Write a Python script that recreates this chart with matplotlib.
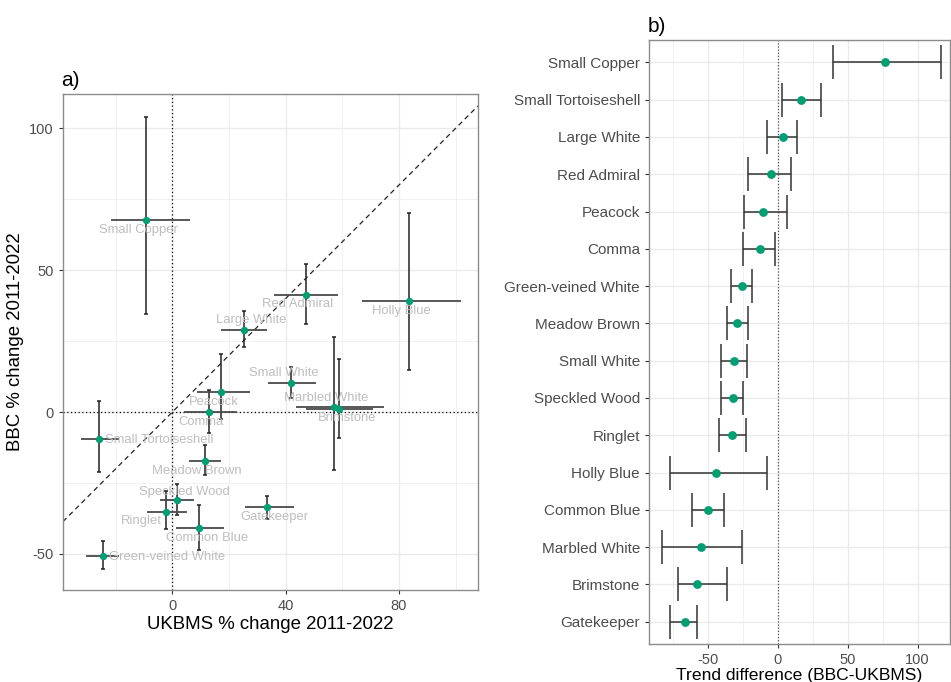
import numpy as np
import matplotlib
matplotlib.use("Agg")
import matplotlib.pyplot as plt
from matplotlib.ticker import MultipleLocator

plt.rcParams['font.family'] = ['Liberation Sans', 'DejaVu Sans']
plt.rcParams['axes.unicode_minus'] = False

# panel a: UKBMS vs BBC % change, with 95% intervals
species = ["Small Copper", "Red Admiral", "Holly Blue", "Large White", "Small White",
           "Peacock", "Comma", "Marbled White", "Brimstone", "Small Tortoiseshell",
           "Meadow Brown", "Speckled Wood", "Ringlet", "Common Blue", "Gatekeeper",
           "Green-veined White"]
ukbms = [-9.2, 47.1, 83.5, 25.3, 42.0, 17.2, 13.1, 57.2, 58.9, -25.9, 11.6, 1.5, -2.1, 9.4, 33.5, -24.6]
ukbms_lo = [-21.6, 35.9, 66.8, 17.1, 33.9, 8.6, 4.2, 43.5, 47.2, -32.2, 6.0, -4.4, -8.9, 1.4, 25.6, -30.4]
ukbms_hi = [6.2, 58.4, 101.8, 33.6, 50.7, 27.6, 22.8, 74.8, 70.9, -18.7, 17.3, 7.5, 5.3, 18.2, 43.1, -18.8]
bbc = [67.6, 41.4, 39.1, 29.1, 10.4, 6.9, 0.0, 1.8, 1.2, -9.6, -17.3, -31.1, -35.1, -40.7, -33.3, -50.6]
bbc_lo = [34.5, 31.2, 15.0, 22.8, 4.8, -2.6, -7.2, -20.4, -9.3, -21.2, -22.3, -36.4, -41.3, -48.6, -37.7, -55.2]
bbc_hi = [104.0, 52.1, 70.2, 35.7, 16.0, 20.3, 7.7, 26.5, 18.8, 4.0, -11.6, -25.5, -27.9, -32.6, -29.5, -45.5]
# where the repelled labels ended up
label_x = [-12.0, 44.2, 80.7, 28.0, 39.3, 14.5, 10.2, 54.4, 61.6, -4.7, 8.8, 4.2, -10.9, 12.1, 36.2, -1.9]
label_y = [64.3, 38.1, 35.7, 32.3, 13.6, 3.5, -3.4, 4.8, -2.2, -9.9, -20.7, -28.1, -38.4, -44.2, -36.9, -50.9]

# panel b: trend difference (BBC-UKBMS)
diff_species = ["Small Copper", "Small Tortoiseshell", "Large White", "Red Admiral", "Peacock",
                "Comma", "Green-veined White", "Meadow Brown", "Small White", "Speckled Wood",
                "Ringlet", "Holly Blue", "Common Blue", "Marbled White", "Brimstone", "Gatekeeper"]
diff = [76.9, 16.2, 3.8, -5.3, -10.5, -12.9, -26.0, -29.1, -31.3, -32.5, -33.0, -44.2, -50.1, -55.4, -57.8, -66.9]
diff_lo = [39.2, 2.9, -7.6, -21.3, -24.1, -25.1, -33.4, -36.3, -41.1, -40.6, -42.5, -77.1, -61.6, -83.1, -71.9, -77.1]
diff_hi = [117.0, 30.8, 13.6, 9.1, 6.2, -2.1, -18.4, -21.5, -22.0, -24.8, -22.9, -7.9, -38.7, -25.5, -36.3, -58.3]

green = '#009E73'
grid_col = '#EBEBEB'
tick_col = '#4D4D4D'

fig = plt.figure(figsize=(9.51, 6.82), dpi=100)
ax1 = fig.add_axes([0.0662, 0.1349, 0.4364, 0.7273])
ax2 = fig.add_axes([0.6824, 0.0557, 0.3166, 0.8856])


def style_axes(ax):
    ax.set_facecolor('white')
    ax.grid(which='major', color=grid_col, lw=1.0, zorder=0)
    ax.grid(which='minor', color=grid_col, lw=0.5, zorder=0)
    ax.set_axisbelow(True)
    for s in ax.spines.values():
        s.set_color('#8c8c8c')
        s.set_linewidth(1.0)
    ax.tick_params(which='major', colors='#333333', labelcolor=tick_col, labelsize=10.5,
                   length=3, width=0.8)
    ax.tick_params(which='minor', length=0)


# ---- panel a ----
x = np.array(ukbms)
y = np.array(bbc)
style_axes(ax1)
ax1.set_xlim(-38.6, 107.9)
ax1.set_ylim(-62.7, 112.1)
ax1.xaxis.set_major_locator(MultipleLocator(40))
ax1.xaxis.set_minor_locator(MultipleLocator(20))
ax1.yaxis.set_major_locator(MultipleLocator(50))
ax1.yaxis.set_minor_locator(MultipleLocator(25))
ax1.axvline(0, color='black', ls=(0, (1, 2)), lw=0.9, zorder=1)
ax1.axhline(0, color='black', ls=(0, (1, 2)), lw=0.9, zorder=1)
ax1.axline((0, 0), slope=1, color='#222222', ls=(0, (4, 3)), lw=0.9, zorder=1)
ax1.errorbar(x, y, yerr=[y - np.array(bbc_lo), np.array(bbc_hi) - y], fmt='none',
             ecolor='#222222', elinewidth=1.1, capsize=1.5, capthick=1.1, zorder=2)
ax1.errorbar(x, y, xerr=[x - np.array(ukbms_lo), np.array(ukbms_hi) - x], fmt='none',
             ecolor='#4a4a4a', elinewidth=1.3, capsize=0, zorder=2)
ax1.scatter(x, y, s=28, color=green, zorder=3, linewidths=0)
for name, lx, ly in zip(species, label_x, label_y):
    ax1.text(lx, ly, name, color='#BEBEBE', fontsize=9.4, ha='center', va='center', zorder=4)
ax1.set_xlabel('UKBMS % change 2011-2022', fontsize=13.4, labelpad=2)
ax1.set_ylabel('BBC % change 2011-2022', fontsize=13.4, labelpad=4)
ax1.set_title('a)', loc='left', fontsize=15, pad=6, x=-0.005)

# ---- panel b ----
pos = np.arange(len(diff_species))[::-1]
d = np.array(diff)
style_axes(ax2)
ax2.set_xlim(-92.4, 123.2)
ax2.set_ylim(-0.6, len(diff_species) - 0.4)
ax2.xaxis.set_major_locator(MultipleLocator(50))
ax2.xaxis.set_minor_locator(MultipleLocator(25))
ax2.set_yticks(pos)
ax2.set_yticklabels(diff_species, fontsize=11)
ax2.axvline(0, color='#555555', ls=(0, (1, 1.5)), lw=0.9, zorder=1)
ax2.errorbar(d, pos, xerr=[d - np.array(diff_lo), np.array(diff_hi) - d], fmt='none',
             ecolor='#333333', elinewidth=1.1, capsize=12, capthick=1.1, zorder=2)
ax2.scatter(d, pos, s=40, color=green, zorder=3, linewidths=0)
ax2.set_xlabel('Trend difference (BBC-UKBMS)', fontsize=12.6, labelpad=0.5)
ax2.set_title('b)', loc='left', fontsize=15, pad=6, x=-0.005)

fig.savefig('out.png', dpi=100, facecolor='white')
